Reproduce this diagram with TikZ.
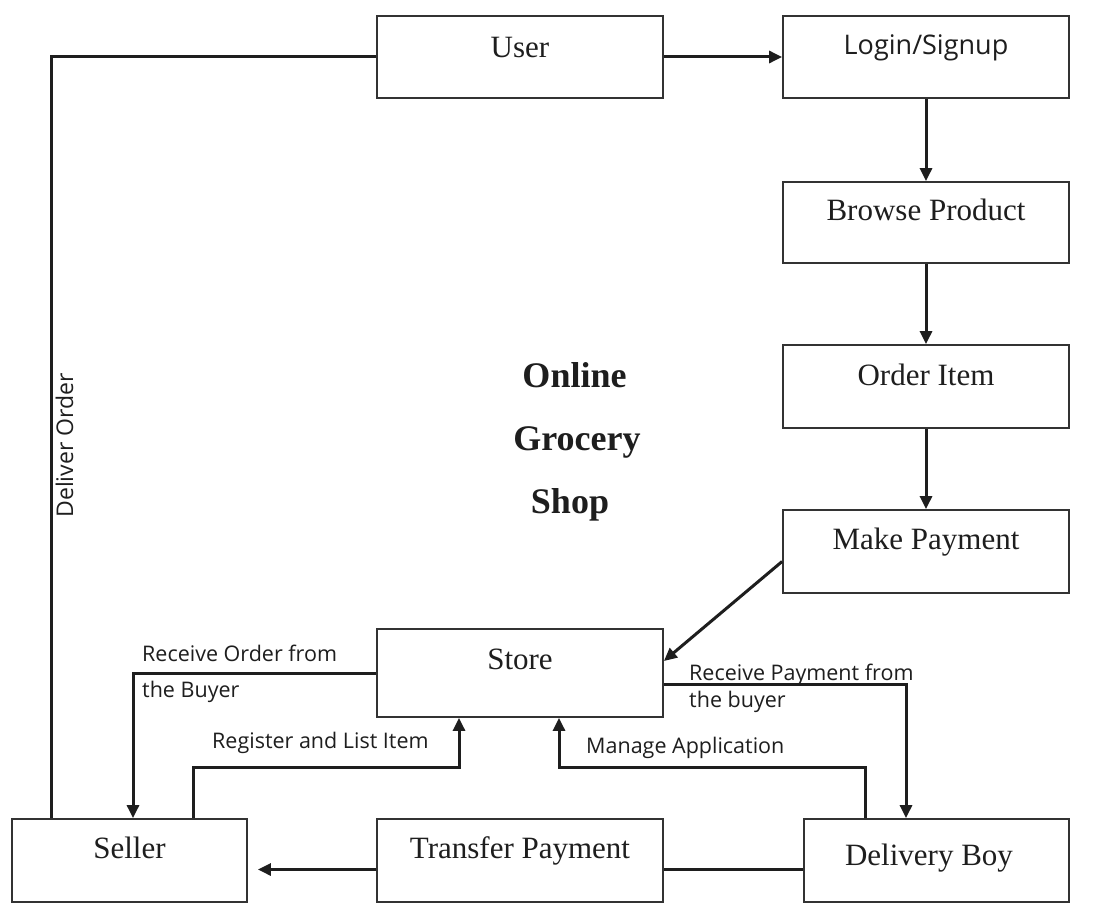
\documentclass[tikz,border=0pt]{standalone}
\usepackage{fontspec}
\setmainfont{Liberation Serif}
\newfontfamily\lblfont{Open Sans}
\usetikzlibrary{arrows.meta}
\definecolor{ink}{HTML}{1E1E1E}
\definecolor{edge}{HTML}{333333}
\tikzset{
  box/.style={draw=edge, line width=1.8pt, inner sep=0pt},
  boxtxt/.style={anchor=base, inner sep=0pt, text=ink, font=\fontsize{31}{31}\selectfont},
  conn/.style={draw=ink, line width=3pt},
  arr/.style={conn, -{Triangle[length=13pt,width=12pt]}},
  lbl/.style={anchor=base west, inner sep=0pt, text=ink, font=\lblfont\fontsize{21.5}{21.5}\selectfont},
  ttl/.style={anchor=base, inner sep=0pt, text=ink, font=\bfseries\fontsize{36}{36}\selectfont}
}
\begin{document}
\begin{tikzpicture}[x=1pt,y=-1pt]
\useasboundingbox[fill=white] (0,0) rectangle (1094,923);

% boxes
\node[box, minimum width=286pt, minimum height=82pt] (user) at (520,57) {};
\node[box, minimum width=286pt, minimum height=82pt] (login) at (926,57) {};
\node[box, minimum width=286pt, minimum height=81pt] (browse) at (926,222.5) {};
\node[box, minimum width=286pt, minimum height=83pt] (order) at (926,386.5) {};
\node[box, minimum width=286pt, minimum height=83pt] (pay) at (926,551.5) {};
\node[box, minimum width=286pt, minimum height=88pt] (store) at (520,673) {};
\node[box, minimum width=235pt, minimum height=83pt] (seller) at (129.5,860.5) {};
\node[box, minimum width=286pt, minimum height=83pt] (transfer) at (520,860.5) {};
\node[box, minimum width=265pt, minimum height=83pt] (dboy) at (936.5,860.5) {};

% box texts
\node[boxtxt] (tuser) at (520,58) {User};
\node[boxtxt, font=\lblfont\fontsize{27}{27}\selectfont] (tlogin) at (926,55) {Login/Signup};
\node[boxtxt] (tbrowse) at (926,220) {Browse Product};
\node[boxtxt] (torder) at (926,385) {Order Item};
\node[boxtxt] (tpay) at (926,549) {Make Payment};
\node[boxtxt] (tstore) at (520,669) {Store};
\node[boxtxt] (tseller) at (129.5,858) {Seller};
\node[boxtxt] (ttransfer) at (520,858) {Transfer Payment};
\node[boxtxt] (tdboy) at (929,865) {Delivery Boy};

% title
\node[ttl] (t1) at (574.5,387) {Online};
\node[ttl] (t2) at (577,450) {Grocery};
\node[ttl] (t3) at (570,513) {Shop};

% connectors
\coordinate (d1) at (51,57);
\draw[conn] (user.west) -- (d1) -- (d1 |- seller.north);
\draw[arr] (user.east) -- (login.west);
\draw[arr] (login.south) -- (browse.north);
\draw[arr] (browse.south) -- (order.north);
\draw[arr] (order.south) -- (pay.north);
\draw[arr] ([yshift=-10pt]pay.west) -- ([yshift=12pt]store.east);
\draw[arr] (store.west) -| ([xshift=3.5pt]seller.north);
\coordinate (r1) at (193,767);
\draw[arr] (r1 |- seller.north) -- (r1) -| ([xshift=-61pt]store.south);
\draw[arr] ([yshift=-11pt]store.east) -| ([xshift=-30.5pt]dboy.north);
\coordinate (m1) at (865,767);
\draw[arr] (m1 |- dboy.north) -- (m1) -| ([xshift=39pt]store.south);
\draw[conn] ([yshift=-9pt]dboy.west) -- ([yshift=-9pt]transfer.east);
\draw[arr, shorten >=10pt] ([yshift=-9pt]transfer.west) -- ([yshift=-9pt]seller.east);

% labels
\node[lbl, anchor=base, rotate=90, font=\lblfont\fontsize{23}{23}\selectfont] (ldeliver) at (73,445.5) {Deliver Order};
\node[lbl] (lro1) at (142,661) {Receive Order from};
\node[lbl] (lro2) at (142,697) {the Buyer};
\node[lbl] (lreg) at (212,748) {Register and List Item};
\node[lbl] (lrp1) at (689,680) {Receive Payment from};
\node[lbl] (lrp2) at (689,707) {the buyer};
\node[lbl] (lman) at (586,753) {Manage Application};
\end{tikzpicture}
\end{document}
